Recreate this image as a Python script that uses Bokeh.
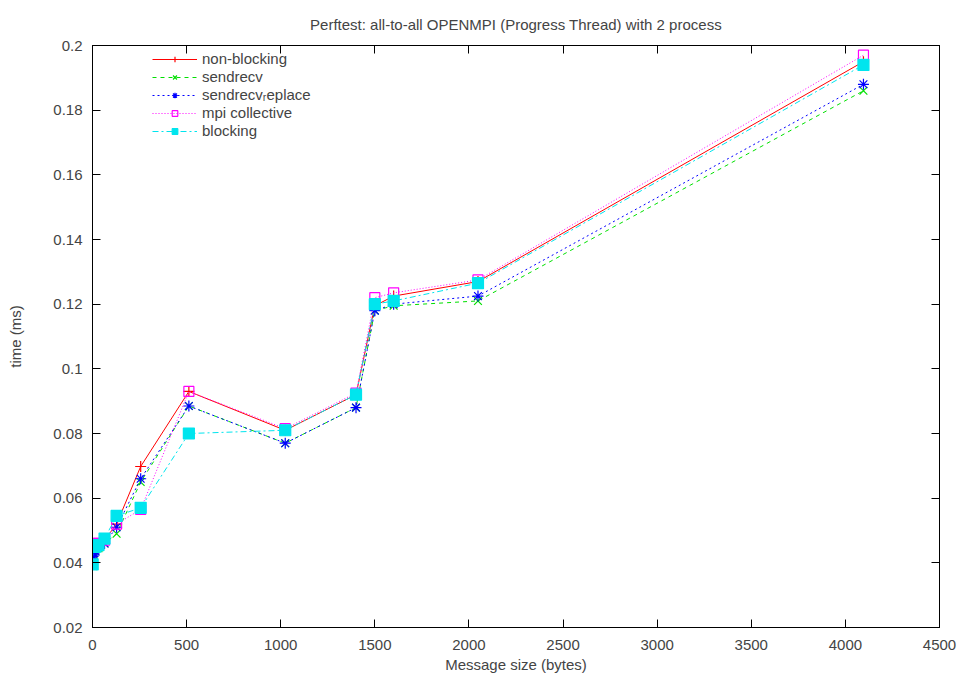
from bokeh.plotting import figure
from bokeh.models import FixedTicker, CustomJSTickFormatter, LinearAxis, Legend, LegendItem, Range1d
from bokeh.embed import file_html
from bokeh.resources import INLINE

title = "Perftest: all-to-all OPENMPI (Progress Thread) with 2 process"
sizes = [1, 2, 4, 8, 16, 32, 64, 128, 256, 512, 1024, 1400, 1500, 1600, 2048, 4096]
non_blocking = [0.0445, 0.044, 0.0445, 0.0445, 0.045, 0.046, 0.047, 0.052, 0.0698, 0.093, 0.081, 0.092, 0.1195, 0.1225, 0.127, 0.195]
sendrecv = [0.039, 0.0415, 0.042, 0.0425, 0.0435, 0.0445, 0.046, 0.049, 0.065, 0.0885, 0.077, 0.088, 0.118, 0.1195, 0.121, 0.186]
sendrecv_replace = [0.042, 0.042, 0.0425, 0.043, 0.0435, 0.045, 0.046, 0.051, 0.066, 0.0885, 0.077, 0.088, 0.118, 0.120, 0.1225, 0.188]
mpi_collective = [0.045, 0.0455, 0.0455, 0.0455, 0.046, 0.046, 0.047, 0.052, 0.0565, 0.093, 0.0815, 0.0925, 0.122, 0.1235, 0.1275, 0.197]
blocking = [0.0395, 0.045, 0.045, 0.045, 0.045, 0.0455, 0.0475, 0.0545, 0.057, 0.080, 0.081, 0.092, 0.120, 0.121, 0.1265, 0.194]

x_ticks = [0, 500, 1000, 1500, 2000, 2500, 3000, 3500, 4000, 4500]
y_ticks = [0.02, 0.04, 0.06, 0.08, 0.1, 0.12, 0.14, 0.16, 0.18, 0.2]

FONT = "Liberation Sans"
FS = "15px"

p = figure(width=962, height=675, output_backend="svg", toolbar_location=None,
           x_range=Range1d(0, 4500), y_range=Range1d(0.02, 0.2),
           min_border_left=92, min_border_right=23, min_border_top=44, min_border_bottom=48,
           title=title)
p.title.align = "center"
p.title.text_font = FONT
p.title.text_font_size = FS
p.title.text_font_style = "normal"
p.title.standoff = 26
p.grid.visible = False
p.outline_line_color = "black"
p.outline_line_width = 1

fmt = CustomJSTickFormatter(code="return String(parseFloat(tick.toFixed(4)));")
blank = CustomJSTickFormatter(code="return '';")

for ax in [p.xaxis[0], p.yaxis[0]]:
    ax.major_tick_in = 8
    ax.major_tick_out = 0
    ax.minor_tick_line_color = None
    ax.axis_line_color = "black"
    ax.major_label_text_font = FONT
    ax.major_label_text_font_size = FS
    ax.axis_label_text_font = FONT
    ax.axis_label_text_font_size = FS
    ax.axis_label_text_font_style = "normal"
p.xaxis[0].ticker = FixedTicker(ticks=x_ticks)
p.yaxis[0].ticker = FixedTicker(ticks=y_ticks)
p.xaxis[0].formatter = fmt
p.yaxis[0].formatter = fmt
p.xaxis[0].axis_label = "Message size (bytes)"
p.yaxis[0].axis_label = "time (ms)"
p.xaxis[0].major_label_standoff = 12
p.yaxis[0].major_label_standoff = 10
p.xaxis[0].axis_label_standoff = 3
p.yaxis[0].axis_label_standoff = 26

top_ax = LinearAxis(ticker=FixedTicker(ticks=x_ticks), formatter=blank,
                    major_tick_in=8, major_tick_out=0, minor_tick_line_color=None,
                    major_label_standoff=0)
right_ax = LinearAxis(ticker=FixedTicker(ticks=y_ticks), formatter=blank,
                      major_tick_in=8, major_tick_out=0, minor_tick_line_color=None,
                      major_label_standoff=0)
p.add_layout(top_ax, "above")
p.add_layout(right_ax, "right")

series = [
    ("non-blocking", non_blocking, "#ff0000", "solid", "cross", True),
    ("sendrecv", sendrecv, "#00e000", "4 4", "x", True),
    ("sendrecv\u1d63eplace", sendrecv_replace, "#0000ff", "2 3", "asterisk", True),
    ("mpi collective", mpi_collective, "#ff00ff", "1 2", "square", False),
    ("blocking", blocking, "#00e5ee", "6 3 2 3", "square", True),
]

items = []
for name, ys, color, dash, marker, filled in series:
    ln = p.line(sizes, ys, line_color=color, line_width=1, line_dash=dash)
    if marker == "square":
        sc = p.scatter(sizes, ys, marker="square", size=11 if filled else 10, line_color=color,
                       fill_color=color if filled else None, line_width=1.2)
    else:
        sc = p.scatter(sizes, ys, marker=marker, size=11, line_color=color, line_width=1.2)
    items.append(LegendItem(label=name, renderers=[ln, sc]))

legend = Legend(items=items, location=(60, 488), border_line_color=None,
                background_fill_alpha=0, label_text_font=FONT, label_text_font_size=FS,
                glyph_width=45, glyph_height=14, label_height=14, spacing=1, padding=3)
p.add_layout(legend, "center")

open("out.html", "w").write(file_html(p, INLINE))
